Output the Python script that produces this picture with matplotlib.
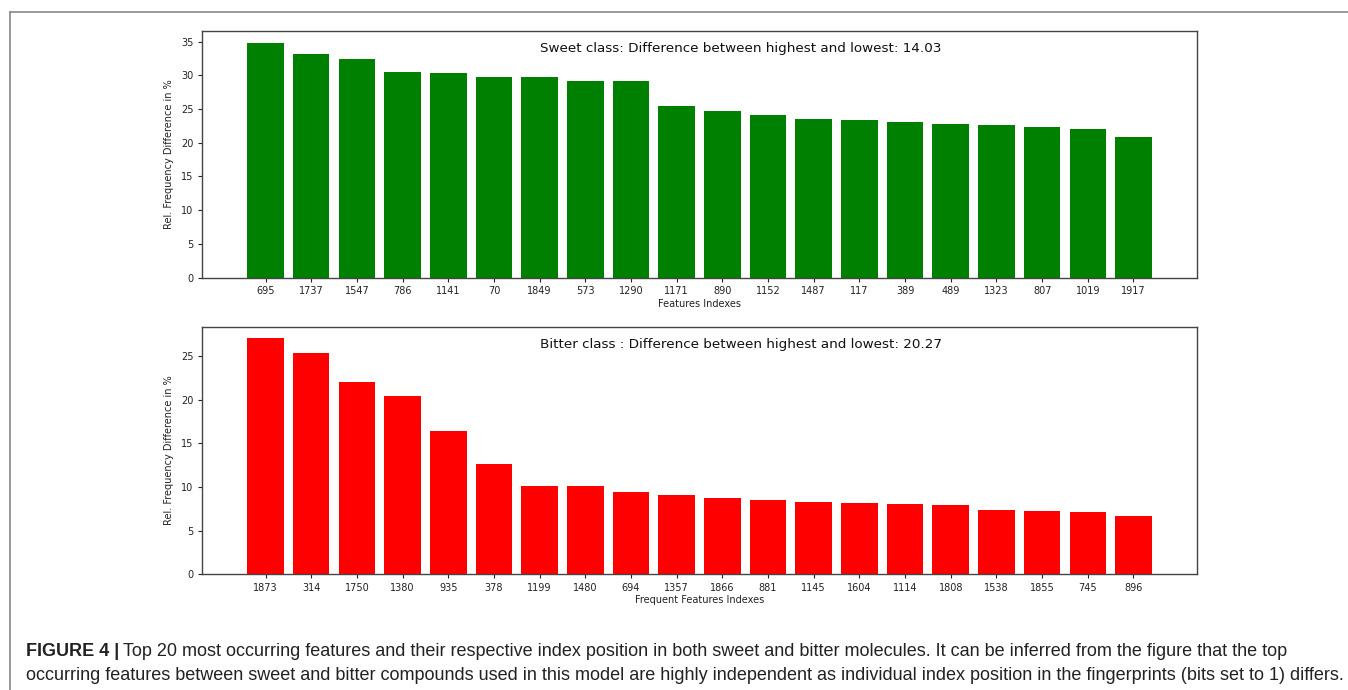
import matplotlib
matplotlib.use("Agg")
import matplotlib.pyplot as plt
from matplotlib.lines import Line2D

# Top 20 features, sweet class
sweet_idx = ['695', '1737', '1547', '786', '1141', '70', '1849', '573', '1290', '1171',
             '890', '1152', '1487', '117', '389', '489', '1323', '807', '1019', '1917']
sweet_val = [34.83, 33.23, 32.44, 30.42, 30.27, 29.78, 29.78, 29.19, 29.09, 25.49,
             24.70, 24.11, 23.56, 23.36, 23.07, 22.83, 22.58, 22.38, 22.04, 20.80]

# Top 20 features, bitter class
bitter_idx = ['1873', '314', '1750', '1380', '935', '378', '1199', '1480', '694', '1357',
              '1866', '881', '1145', '1604', '1114', '1808', '1538', '1855', '745', '896']
bitter_val = [26.99, 25.34, 22.00, 20.37, 16.40, 12.57, 10.13, 10.05, 9.40, 9.02,
              8.75, 8.56, 8.29, 8.14, 8.06, 7.91, 7.37, 7.26, 7.11, 6.72]

sweet_note = 'Sweet class: Difference between highest and lowest: 14.03'
bitter_note = 'Bitter class : Difference between highest and lowest: 20.27'

W, H = 1348, 690
fig = plt.figure(figsize=(W / 100, H / 100), dpi=100)


def px_axes(left, top, right, bottom):
    """Axes rect from pixel edges (top-left origin)"""
    return [left / W, 1 - bottom / H, (right - left) / W, (bottom - top) / H]


def draw_panel(ax, labels, values, color, note, xlabel):
    x = list(range(len(labels)))
    ax.bar(x, values, width=0.8, color=color)
    ax.set_xticks(x)
    ax.set_xticklabels(labels)
    ax.tick_params(labelsize=7, length=3, width=0.8, colors='#222222', pad=3)
    ax.set_ylabel('Rel. Frequency Difference in %', fontsize=7, color='#222222', labelpad=5)
    ax.set_xlabel(xlabel, fontsize=7, color='#222222', labelpad=2)
    for s in ax.spines.values():
        s.set_color('#444444')
        s.set_linewidth(1.0)
    ax.text(0.34, 0.93, note, transform=ax.transAxes, fontsize=9.7, color='#111111',
            ha='left', va='center')


ax1 = fig.add_axes(px_axes(202, 31, 1197, 277.5))
draw_panel(ax1, sweet_idx, sweet_val, 'green', sweet_note, 'Features Indexes')

ax2 = fig.add_axes(px_axes(202, 326.7, 1197, 574.3))
draw_panel(ax2, bitter_idx, bitter_val, 'red', bitter_note, 'Frequent Features Indexes')

# Page frame
fig.add_artist(Line2D([10 / W, 1], [1 - 12 / H, 1 - 12 / H], color='#888888', lw=1.2))
fig.add_artist(Line2D([10 / W, 10 / W], [0, 1 - 12 / H], color='#888888', lw=1.2))

# Caption
cap_font = 'Liberation Sans'
cap_size = 13
x0 = 26 / W
y1 = 1 - 652 / H
y2 = 1 - 676 / H
bold = fig.text(x0, y1, 'FIGURE 4 |', family=cap_font, fontsize=cap_size,
                fontweight='bold', color='#222222', ha='left', va='center')
fig.canvas.draw()
bb = bold.get_window_extent()
fig.text(bb.x1 / W + 4 / W, y1,
         'Top 20 most occurring features and their respective index position in both sweet and bitter '
         'molecules. It can be inferred from the figure that the top',
         family=cap_font, fontsize=cap_size, color='#222222', ha='left', va='center')
fig.text(x0, y2,
         'occurring features between sweet and bitter compounds used in this model are highly '
         'independent as individual index position in the fingerprints (bits set to 1) differs.',
         family=cap_font, fontsize=cap_size, color='#222222', ha='left', va='center')

fig.savefig('out.png', dpi=100)
